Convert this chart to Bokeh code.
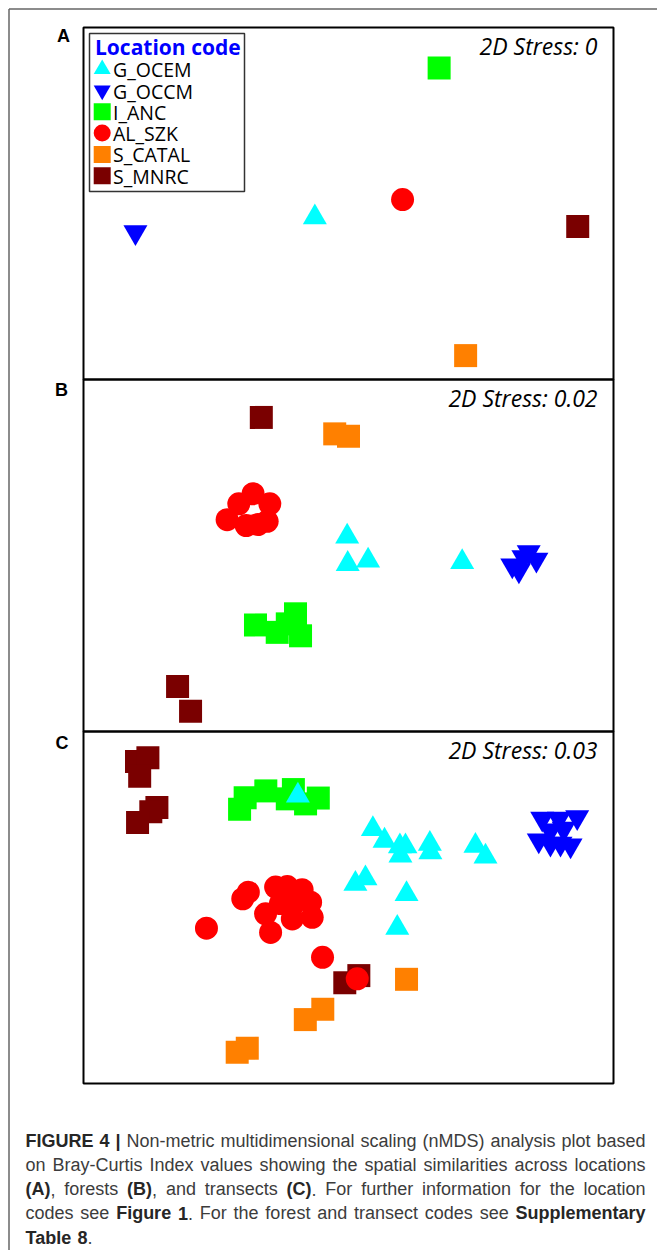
from bokeh.plotting import figure
from bokeh.models import Range1d
from bokeh.core.properties import value
from bokeh.embed import file_html
from bokeh.resources import INLINE

# ---------------- data (nMDS coordinates, arbitrary units) ----------------
codes = ["G_OCEM", "G_OCCM", "I_ANC", "AL_SZK", "S_CATAL", "S_MNRC"]
markers = ["triangle", "inverted_triangle", "square", "circle", "square", "square"]
colors = ["#00FFFF", "#0000FF", "#00FF00", "#FF0000", "#FF8000", "#7A0000"]
stress = ["2D Stress: 0", "2D Stress: 0.02", "2D Stress: 0.03"]
panel_labels = ["A", "B", "C"]

# Panel A: locations (one point per location)
A_x = [-0.127, -0.804, 0.342, 0.204, 0.442, 0.865]
A_y = [-0.052, -0.108, 0.511, 0.015, -0.574, -0.087]

# Panel B: forests
B_OCEM_x = [-0.005, -0.003, 0.074, 0.429]
B_OCEM_y = [0.071, -0.032, -0.019, -0.025]
B_OCCM_x = [0.680, 0.618, 0.643, 0.709, 0.660]
B_OCCM_y = [0.013, -0.037, -0.056, -0.016, -0.006]
B_ANC_x = [-0.351, -0.200, -0.269, -0.181, -0.231]
B_ANC_y = [-0.262, -0.220, -0.290, -0.303, -0.258]
B_SZK_x = [-0.360, -0.414, -0.297, -0.458, -0.386, -0.342, -0.307]
B_SZK_y = [0.233, 0.195, 0.195, 0.135, 0.113, 0.117, 0.129]
B_CATAL_x = [-0.052, 0.000]
B_CATAL_y = [0.459, 0.450]
B_MNRC_x = [-0.329, -0.645, -0.596]
B_MNRC_y = [0.521, -0.494, -0.588]

# Panel C: transects
C_OCEM_x = [-0.191, 0.092, 0.136, 0.194, 0.215, 0.196, 0.307, 0.309, 0.479, 0.517, 0.064, 0.026, 0.219, 0.184]
C_OCEM_y = [0.422, 0.296, 0.252, 0.231, 0.231, 0.196, 0.240, 0.208, 0.233, 0.192, 0.110, 0.089, 0.051, -0.077]
C_OCCM_x = [0.731, 0.794, 0.863, 0.718, 0.762, 0.800, 0.838, 0.812, 0.762]
C_OCCM_y = [0.335, 0.335, 0.341, 0.253, 0.241, 0.241, 0.234, 0.297, 0.291]
C_ANC_x = [-0.411, -0.390, -0.312, -0.231, -0.208, -0.162, -0.114]
C_ANC_y = [0.371, 0.414, 0.440, 0.410, 0.445, 0.391, 0.413]
C_SZK_x = [-0.536, -0.399, -0.378, -0.275, -0.231, -0.175, -0.143, -0.137, -0.212, -0.313, -0.294, -0.257, -0.206, -0.098, 0.033]
C_SZK_y = [-0.078, 0.033, 0.058, 0.077, 0.079, 0.067, 0.020, -0.037, -0.043, -0.024, -0.094, 0.015, 0.014, -0.188, -0.269]
C_CATAL_x = [0.219, -0.097, -0.163, -0.382, -0.420]
C_CATAL_y = [-0.271, -0.384, -0.423, -0.531, -0.546]
C_MNRC_x = [-0.800, -0.757, -0.788, -0.723, -0.746, -0.796, 0.039, -0.014]
C_MNRC_y = [0.551, 0.565, 0.495, 0.377, 0.361, 0.321, -0.257, -0.284]

# caption: list of lines, each a list of words, each word a list of (text, bold) runs
caption = [
    [[("FIGURE", 1)], [("4", 1)], [("|", 1)], [("Non-metric", 0)], [("multidimensional", 0)],
     [("scaling", 0)], [("(nMDS)", 0)], [("analysis", 0)], [("plot", 0)], [("based", 0)]],
    [[("on", 0)], [("Bray-Curtis", 0)], [("Index", 0)], [("values", 0)], [("showing", 0)],
     [("the", 0)], [("spatial", 0)], [("similarities", 0)], [("across", 0)], [("locations", 0)]],
    [[("(A)", 1), (",", 0)], [("forests", 0)], [("(B)", 1), (",", 0)], [("and", 0)],
     [("transects", 0)], [("(C)", 1), (".", 0)], [("For", 0)], [("further", 0)],
     [("information", 0)], [("for", 0)], [("the", 0)], [("location", 0)]],
    [[("codes", 0)], [("see", 0)], [("Figure", 1)], [("1", 1), (".", 0)], [("For", 0)],
     [("the", 0)], [("forest", 0)], [("and", 0)], [("transect", 0)], [("codes", 0)],
     [("see", 0)], [("Supplementary", 1)]],
    [[("Table", 1)], [("8", 1), (".", 0)]],
]

panels = [
    {code: ([A_x[i]], [A_y[i]]) for i, code in enumerate(codes)},
    {"G_OCEM": (B_OCEM_x, B_OCEM_y), "G_OCCM": (B_OCCM_x, B_OCCM_y), "I_ANC": (B_ANC_x, B_ANC_y),
     "AL_SZK": (B_SZK_x, B_SZK_y), "S_CATAL": (B_CATAL_x, B_CATAL_y), "S_MNRC": (B_MNRC_x, B_MNRC_y)},
    {"G_OCEM": (C_OCEM_x, C_OCEM_y), "G_OCCM": (C_OCCM_x, C_OCCM_y), "I_ANC": (C_ANC_x, C_ANC_y),
     "AL_SZK": (C_SZK_x, C_SZK_y), "S_CATAL": (C_CATAL_x, C_CATAL_y), "S_MNRC": (C_MNRC_x, C_MNRC_y)},
]
draw_order = ["S_MNRC", "S_CATAL", "AL_SZK", "I_ANC", "G_OCCM", "G_OCEM"]

# ---------------- layout (pixels within the page) ----------------
W, H = 657, 1250
FL, FR = 83, 613            # panel frame left / right
FT = [27, 379, 731]         # panel tops
PH = 352                    # panel height
PXU = (FR - FL) / 2.0       # pixels per nMDS unit
YHALF = PH / 2.0 / PXU

p = figure(width=W, height=H, x_range=Range1d(0, W), y_range=Range1d(H, 0),
           output_backend="svg", toolbar_location=None, min_border=0,
           x_axis_location=None, y_axis_location=None,
           outline_line_color=None, background_fill_color="white",
           border_fill_color="white")
p.grid.grid_line_color = None

x0 = -1 - FL / PXU
p.extra_x_ranges = {"nx": Range1d(x0, x0 + W / PXU)}
for k, top in enumerate(FT):
    ytop = YHALF + top / PXU
    p.extra_y_ranges["ny%d" % k] = Range1d(ytop - H / PXU, ytop)

# outer figure frame (top and left edges)
p.line(x=[8.5, 8.5], y=[H, 8.5], line_color="#666666", line_width=1.5)
p.line(x=[8.5, W], y=[8.5, 8.5], line_color="#666666", line_width=1.5)

# data
for k, pdata in enumerate(panels):
    for code in draw_order:
        i = codes.index(code)
        xs, ys = pdata[code]
        size = 24 if "triangle" in markers[i] else 23
        p.scatter(xs, ys, marker=markers[i], size=size, fill_color=colors[i],
                  line_color=None, x_range_name="nx", y_range_name="ny%d" % k)

# panel frames
p.quad(left=[FL] * 3, right=[FR] * 3, top=FT, bottom=[t + PH for t in FT],
       fill_color=None, line_color="black", line_width=2)

# panel letters
p.text(x=[63, 61, 61.5], y=[35, 389, 742], text=panel_labels,
       text_font=value("Liberation Sans"), text_font_style="bold",
       text_font_size="18px", text_align="center", text_baseline="middle",
       text_color="black")

# stress labels
p.text(x=[597] * 3, y=[t + 18.5 for t in FT], text=stress,
       text_font=value("Open Sans"), text_font_style="italic",
       text_font_size="23px", text_align="right", text_baseline="middle",
       text_color="black")

# legend (manual) in panel A
LX0, LX1, LY0, LY1 = 89, 244, 33, 191
p.quad(left=LX0, right=LX1, top=LY0, bottom=LY1, fill_color="white",
       line_color="#333333", line_width=1.5)
p.text(x=[LX0 + 5.5], y=[LY0 + 13], text=["Location code"],
       text_font=value("Open Sans"), text_font_style="bold",
       text_font_size="21px", text_align="left", text_baseline="middle",
       text_color="#0000FF")
row0, dy = LY0 + 35.7, 21.3
for i, code in enumerate(codes):
    yy = row0 + i * dy
    p.scatter([LX0 + 12.7], [yy], marker=markers[i], size=17,
              fill_color=colors[i], line_color=None)
    p.text(x=[LX0 + 23.5], y=[yy + 0.5], text=[code], text_font=value("Open Sans"),
           text_font_size="19.5px", text_align="left", text_baseline="middle",
           text_color="black")

# ---------------- caption (justified, Arial/Liberation metrics) ----------------
REG = dict(zip("abcdefghijklmnopqrstuvwxyz",
               [556, 556, 500, 556, 556, 278, 556, 556, 222, 222, 500, 222, 833, 556, 556,
                556, 556, 333, 500, 278, 556, 500, 722, 500, 500, 500]))
REG.update(dict(zip("ABCDEFGHIJKLMNOPQRSTUVWXYZ",
                    [667, 667, 722, 722, 667, 611, 778, 722, 278, 500, 667, 556, 833, 722, 778,
                     667, 778, 722, 667, 611, 722, 667, 944, 667, 667, 611])))
BLD = dict(zip("abcdefghijklmnopqrstuvwxyz",
               [556, 611, 556, 611, 556, 333, 611, 611, 278, 278, 556, 278, 889, 611, 611,
                611, 611, 389, 556, 333, 611, 556, 778, 556, 556, 500]))
BLD.update(dict(zip("ABCDEFGHIJKLMNOPQRSTUVWXYZ",
                    [722, 722, 722, 722, 667, 611, 778, 722, 278, 556, 722, 611, 833, 722, 778,
                     667, 778, 722, 667, 611, 722, 667, 944, 667, 667, 611])))
for d, bar in ((REG, 260), (BLD, 280)):
    d.update({c: 556 for c in "0123456789"})
    d.update({" ": 278, "(": 333, ")": 333, ",": 278, ".": 278, "-": 333, "|": bar})

FS = 18.0
CX0, CX1 = 25.0, 645.0
BASE0, LEAD = 1140.0, 24.3


def run_w(t, b):
    d = BLD if b else REG
    return sum(d[c] for c in t) * FS / 1000.0


rx, ry, rt, rb = [], [], [], []
for li, line in enumerate(caption):
    widths = [sum(run_w(t, b) for t, b in word) for word in line]
    if li < len(caption) - 1:
        gap = (CX1 - CX0 - sum(widths)) / (len(line) - 1)
    else:
        gap = REG[" "] * FS / 1000.0
    xx = CX0
    for word, w in zip(line, widths):
        x_run = xx
        for t, b in word:
            rx.append(x_run)
            ry.append(BASE0 + li * LEAD)
            rt.append(t)
            rb.append(b)
            x_run += run_w(t, b)
        xx += w + gap

for bold, style, col in ((0, "normal", "#3c3c3c"), (1, "bold", "#262626")):
    idx = [j for j in range(len(rt)) if rb[j] == bold]
    p.text(x=[rx[j] for j in idx], y=[ry[j] for j in idx], text=[rt[j] for j in idx],
           text_font=value("Liberation Sans"), text_font_style=style,
           text_font_size="%gpx" % FS, text_align="left", text_baseline="alphabetic",
           text_color=col)

open("out.html", "w").write(file_html(p, INLINE))
